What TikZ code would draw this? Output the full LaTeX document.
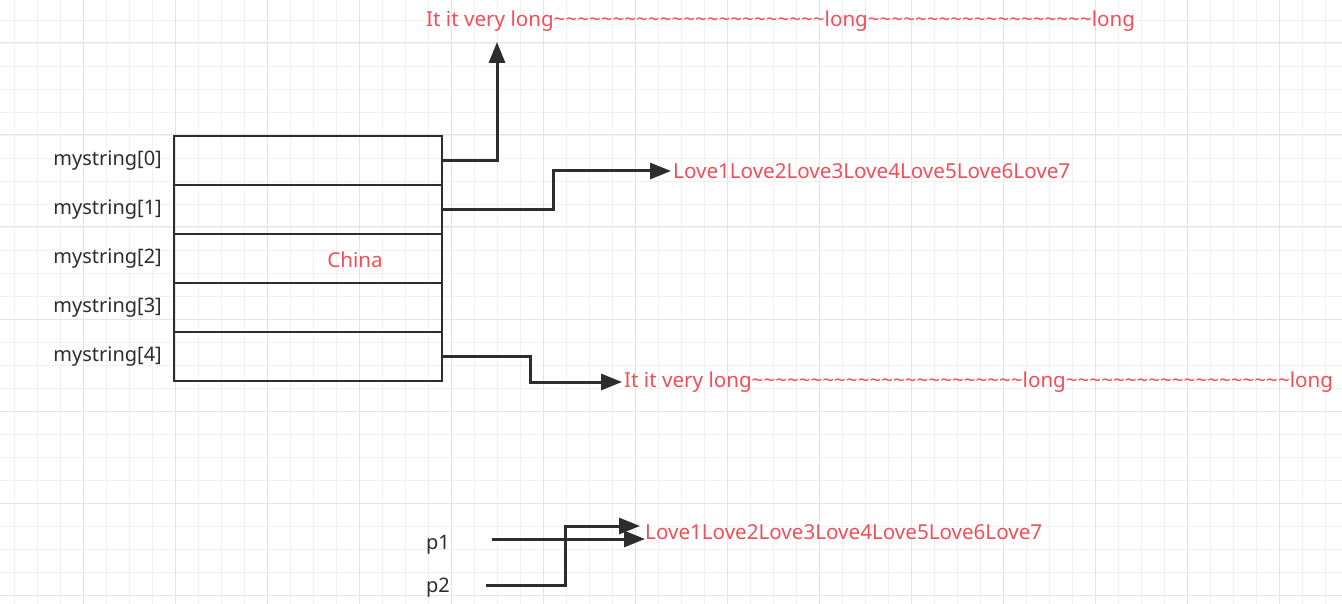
\documentclass[tikz,border=0pt]{standalone}
\usepackage{fontspec}
\setmainfont{Noto Sans}
\usetikzlibrary{arrows.meta}
\definecolor{txtred}{RGB}{242,78,88}
\definecolor{lin}{RGB}{45,45,45}
\definecolor{gmin}{RGB}{241,241,241}
\definecolor{gmaj}{RGB}{228,228,228}
\newcommand\tldrun[1]{\foreach \i in {1,...,#1}{\textasciitilde}}
\tikzset{
  cell/.style={draw=lin,line width=2.8pt,minimum width=268pt,minimum height=49pt,inner sep=0pt},
  lbl/.style={font=\fontsize{20}{23}\selectfont,text=lin,inner sep=3pt},
  red/.style={font=\fontsize{20.6}{23}\selectfont,text=txtred,inner sep=2pt},
  arr/.style={draw=lin,line width=3pt,-{Triangle[length=21pt,width=16pt]}},
}
\begin{document}
\begin{tikzpicture}[x=1pt,y=-1pt]
\useasboundingbox (0,0) rectangle (1342,604);
\fill[white] (0,0) rectangle (1342,604);
\foreach \x in {-9,14,...,1350} \draw[gmin,line width=0.8pt] (\x,0) -- (\x,604);
\foreach \y in {-3,20,...,610} \draw[gmin,line width=0.8pt] (0,\y) -- (1342,\y);
\foreach \x in {-9,83,...,1350} \draw[gmaj,line width=1pt] (\x,0) -- (\x,604);
\foreach \y in {43,135,...,610} \draw[gmaj,line width=1pt] (0,\y) -- (1342,\y);

% array cells
\foreach \i/\y in {0/160.5,1/209.5,2/258.5,3/307.5,4/356.5}{
  \node[cell] (r\i) at (308,\y) {};
  \node[lbl,anchor=east] (l\i) at (165,\y) {mystring[\i]};
}
\node[red] (china) at (355,260) {China};

% targets
\node[red,anchor=west] (long1) at (424,21) {It it very long\tldrun{23}long\tldrun{19}long};
\node[red,anchor=west] (love1) at (671,171) {Love1Love2Love3Love4Love5Love6Love7};
\node[red,anchor=west] (long2) at (622,382) {It it very long\tldrun{23}long\tldrun{19}long};
\node[red,anchor=west] (love2) at (643,532) {Love1Love2Love3Love4Love5Love6Love7};

\coordinate (a0) at (497,42);
\draw[arr] (r0.east) -| (a0);
\draw[arr] (r1.east) -- (553,209.5) |- (love1.west);
\draw[arr] (r4.east) -- (530,356.5) |- (long2.west);

% pointers
\node[lbl] (p1) at (438,545) {p1};
\node[lbl] (p2) at (438,588) {p2};
\coordinate (s1) at (492,539);
\coordinate (s2) at (486,585);
\coordinate (e1) at (645,539);
\coordinate (e2) at (640,526);
\draw[arr] (s2) -- (565,585) |- (e2);
\draw[arr] (s1) -- (e1);
\end{tikzpicture}
\end{document}
